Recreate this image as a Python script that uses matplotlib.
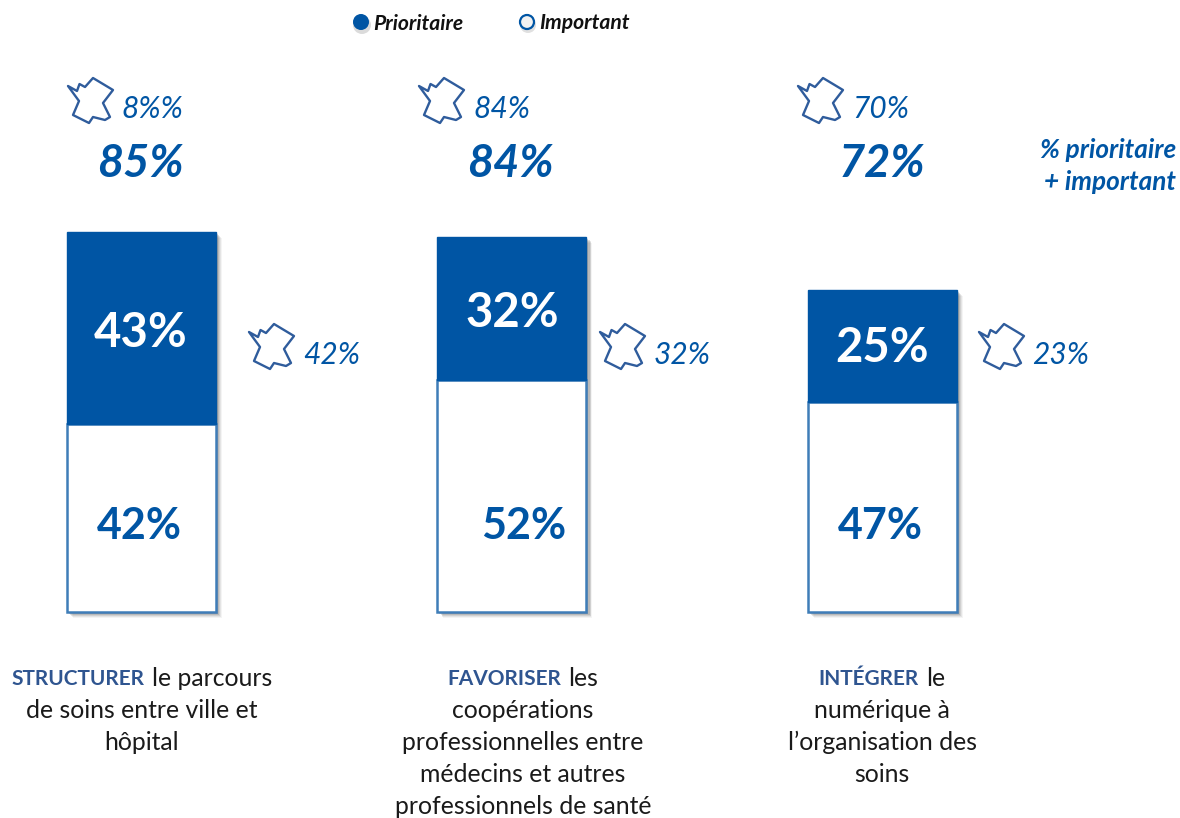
import matplotlib
matplotlib.use("Agg")
import matplotlib.pyplot as plt
from matplotlib.patches import Circle, Polygon

##############
 # Data
##############

categories = ["STRUCTURER", "FAVORISER", "INTÉGRER"]
prioritaire = [43, 32, 25]
important = [42, 52, 47]
total_labels = ["85%", "84%", "72%"]
france_total_labels = ["8%%", "84%", "70%"]
france_prio_labels = ["42%", "32%", "23%"]
cat_lines = [
    ["le parcours", "de soins entre ville et", "hôpital"],
    ["les", "coopérations", "professionnelles entre", "médecins et autres", "professionnels de santé"],
    ["le", "numérique à", "l’organisation des", "soins"],
]

BLUE = "#0055A4"
EDGE = "#3F7DB8"
NAVY = "#2F5590"
FONT = "Lato"

# outline of France, pixels from the north-west tip
FRANCE = [(0, 0), (9, 5), (11.5, -2), (17, 1), (25, -8), (45, 4), (35, 17), (42, 31),
          (37, 34), (25, 31), (21, 37), (5, 29), (11, 15)]

fig = plt.figure(figsize=(11.8, 8.18), dpi=100)

##############
 # Bars
##############

# x: 370.5 px between bars, y: 4.47 px per point, baseline at pixel 612
ax = fig.add_axes([0, 0, 1, 1])
ax.set_xlim(-141.5 / 370.5, (1180 - 141.5) / 370.5)
ax.set_ylim(-(818 - 612) / 4.47, 612 / 4.47)
ax.axis("off")

xs = list(range(len(categories)))
w = 149 / 370.5
totals = [p + i for p, i in zip(prioritaire, important)]

# soft shadow right and below the bars
for off, alpha in [(6, 0.06), (5, 0.09), (4, 0.12), (3, 0.16), (2, 0.20)]:
    dx = off / 370.5
    dy = off / 4.47
    ax.bar([x + dx for x in xs], totals, width=w, bottom=-dy, color="#444444", alpha=alpha,
           linewidth=0, zorder=1)

ax.bar(xs, important, width=w, color="white", edgecolor=EDGE, linewidth=1.8, zorder=2)
ax.bar(xs, prioritaire, width=w, bottom=important, color=BLUE, edgecolor=BLUE, linewidth=1.0, zorder=3)

##############
 # Text overlay (pixel coordinates)
##############

ov = fig.add_axes([0, 0, 1, 1])
ov.set_xlim(0, 1180)
ov.set_ylim(818, 0)
ov.axis("off")
ov.patch.set_alpha(0)


def france(x, y):
    pts = [(x + a, y + b) for a, b in FRANCE]
    ov.add_patch(Polygon(pts, closed=True, fill=False, edgecolor="#2F5C9C", linewidth=1.7, joinstyle="round"))


big_x = [140, 510, 882]
val_x_prio = [141, 512, 882]
val_y_prio = [333, 313, 348]
val_x_imp = [139, 524, 880]
for i in xs:
    ov.text(big_x[i], 164, total_labels[i], color=BLUE, fontsize=32.5, family=FONT, weight="bold",
            style="italic", ha="center", va="center")
    ov.text(val_x_prio[i], val_y_prio[i], f"{prioritaire[i]}%", color="white", fontsize=34, family=FONT,
            weight="bold", ha="center", va="center", zorder=5)
    ov.text(val_x_imp[i], 526, f"{important[i]}%", color=BLUE, fontsize=31, family=FONT, weight="bold",
            ha="center", va="center", zorder=5)

top_icon_x = [68, 419, 798]
top_text_x = [121, 473, 852]
side_icon_x = [249, 600, 979]
side_text_x = [303, 654, 1032]
for i in xs:
    france(top_icon_x[i], 86)
    ov.text(top_text_x[i], 109, france_total_labels[i], color=BLUE, fontsize=21.5, family=FONT, style="italic",
            ha="left", va="center")
    france(side_icon_x[i], 332)
    ov.text(side_text_x[i], 355, france_prio_labels[i], color=BLUE, fontsize=21.5, family=FONT, style="italic",
            ha="left", va="center")

ov.text(1176, 150, "% prioritaire", color=BLUE, fontsize=18.8, family=FONT, weight="bold", style="italic",
        ha="right", va="center")
ov.text(1176, 182, "+ important", color=BLUE, fontsize=18.8, family=FONT, weight="bold", style="italic",
        ha="right", va="center")

##############
 # Legend
##############

ov.add_patch(Circle((362, 25), 9, color="#999999", alpha=0.35, linewidth=0))
ov.add_patch(Circle((361, 22), 8, color=BLUE, linewidth=0))
ov.add_patch(Circle((528, 25), 8, color="#999999", alpha=0.3, linewidth=0))
ov.add_patch(Circle((527, 22), 7, facecolor="#F2F2F2", edgecolor=BLUE, linewidth=1.6))
ov.text(373, 24, "Prioritaire", fontsize=15.2, family=FONT, weight="bold", style="italic", color="#111111",
        ha="left", va="center")
ov.text(539, 23, "Important", fontsize=15.2, family=FONT, weight="bold", style="italic", color="#111111",
        ha="left", va="center")

##############
 # Category captions
##############

fig.canvas.draw()
rend = fig.canvas.get_renderer()
cap_x = [142, 523, 882]
line_h = 32
for i, cat in enumerate(categories):
    lines = cat_lines[i]
    y0 = 679
    # first line: bold word then plain text, centred together
    t1 = ov.text(0, y0, cat, color=NAVY, fontsize=15, family=FONT, weight="bold", ha="left", va="center")
    t2 = ov.text(0, y0, lines[0], color="#1A1A1A", fontsize=17.8, family=FONT, ha="left", va="center")
    w1 = t1.get_window_extent(rend).width
    w2 = t2.get_window_extent(rend).width
    start = cap_x[i] - (w1 + w2 + 7) / 2
    t1.set_x(start)
    t2.set_x(start + w1 + 7)
    for j, line in enumerate(lines[1:], start=1):
        ov.text(cap_x[i], y0 + j * line_h - 1, line, color="#1A1A1A", fontsize=17.8, family=FONT, ha="center", va="center")

fig.savefig("out.png", dpi=100, facecolor="white")
